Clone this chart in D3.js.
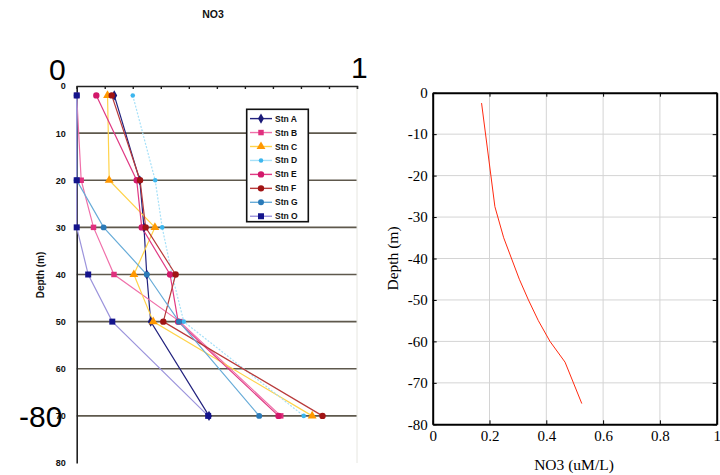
<!DOCTYPE html>
<html><head><meta charset="utf-8">
<script src="https://cdn.jsdelivr.net/npm/d3@7"></script>
<style>body{margin:0;background:#fff}svg{display:block}</style>
</head><body>
<script>
// ---------- data ----------
const stationNames = ["Stn A","Stn B","Stn C","Stn D","Stn E","Stn F","Stn G","Stn O"];
const sampleDepths = [2, 20, 30, 40, 50, 70];
const stnA = [0.134, 0.225, 0.240, 0.250, 0.264, 0.472];
const stnB = [0.000, 0.016, 0.060, 0.133, 0.368, 0.728];
const stnC = [0.110, 0.116, 0.279, 0.204, 0.273, 0.840];
const stnD = [0.200, 0.280, 0.305, 0.340, 0.382, 0.810];
const stnE = [0.070, 0.214, 0.232, 0.333, 0.362, 0.720];
const stnF = [0.125, 0.226, 0.246, 0.353, 0.309, 0.877];
const stnG = [0.000, 0.000, 0.096, 0.250, 0.365, 0.651];
const stnO = [0.000, 0.000, 0.000, 0.041, 0.127, 0.469];
const leftDepthTicks = [0,10,20,30,40,50,60,70,80];

const meanDepth = [-2.5, -27.5, -35, -45, -50, -55, -60, -65, -75];
const meanNO3   = [0.172, 0.219, 0.250, 0.305, 0.337, 0.372, 0.413, 0.466, 0.525];
const rightXTicks = [0, 0.2, 0.4, 0.6, 0.8, 1];
const rightYTicks = [0, -10, -20, -30, -40, -50, -60, -70, -80];

// ---------- styles ----------
const stationValues = [stnA, stnB, stnC, stnD, stnE, stnF, stnG, stnO];
const styles = [
  {line:"#22227e", mark:"#1a1a78", sym:d3.symbolDiamond, size:30, dash:null},
  {line:"#f070aa", mark:"#e0307e", sym:d3.symbolSquare, size:30, dash:null},
  {line:"#ffd34a", mark:"#ff9800", sym:d3.symbolTriangle, size:34, dash:null},
  {line:"#a6e0f8", mark:"#3cb6ee", sym:d3.symbolCircle, size:16, dash:"2,1.5"},
  {line:"#e03a84", mark:"#d2186a", sym:d3.symbolCircle, size:32, dash:null},
  {line:"#b83a3a", mark:"#a01414", sym:d3.symbolCircle, size:32, dash:null},
  {line:"#68acd8", mark:"#2a7ab8", sym:d3.symbolCircle, size:28, dash:null},
  {line:"#9c94dc", mark:"#14148c", sym:d3.symbolSquare, size:36, dash:null}
];

const svg = d3.select("body").append("svg").attr("width",720).attr("height",475);
svg.append("rect").attr("width",720).attr("height",475).attr("fill","#fff");

// ---------- left panel ----------
const lx = d3.scaleLinear().domain([0,1]).range([76.7,357]);
const ly = d3.scaleLinear().domain([0,80]).range([86,463]);
const L = svg.append("g");

L.append("text").attr("x",213).attr("y",18).attr("text-anchor","middle")
  .attr("font-family","Liberation Sans, Arial").attr("font-weight","bold").attr("font-size",10.5)
  .attr("fill","#111").text("NO3");

// gridlines
L.selectAll("line.grid").data(leftDepthTicks.filter(d=>d>0 && d<80)).join("line")
  .attr("x1",lx(0)).attr("x2",lx(1)).attr("y1",d=>ly(d)).attr("y2",d=>ly(d))
  .attr("stroke","#5e584c").attr("stroke-width",1.6);
// faint right border
L.append("line").attr("x1",lx(1)).attr("x2",lx(1)).attr("y1",ly(0)).attr("y2",ly(80))
  .attr("stroke","#e6e6e0").attr("stroke-width",1);

// top axis
const topAxis = d3.axisBottom(lx).tickValues(d3.range(0,1.01,0.1)).tickSize(3).tickFormat("");
L.append("g").attr("transform",`translate(0,${ly(0)})`).call(topAxis)
  .call(g=>g.selectAll("path,line").attr("stroke","#222").attr("stroke-width",1.4));

// left axis
const leftAxis = d3.axisLeft(ly).tickValues(leftDepthTicks).tickSize(0).tickPadding(11)
  .tickFormat(d=>d);
L.append("g").attr("transform",`translate(${lx(0)},0)`).call(leftAxis)
  .call(g=>g.select("path").attr("stroke","#222").attr("stroke-width",1.6))
  .call(g=>g.selectAll("text").attr("font-family","Liberation Sans, Arial")
    .attr("font-weight","bold").attr("font-size",9).attr("fill","#111"));

L.append("text").attr("transform","translate(44,275) rotate(-90)").attr("text-anchor","middle")
  .attr("font-family","Liberation Sans, Arial").attr("font-weight","bold").attr("font-size",10)
  .attr("fill","#111").text("Depth (m)");

// series
const line = d3.line().x(d=>lx(d[0])).y(d=>ly(d[1]));
stationValues.forEach((vals,i)=>{
  const pts = vals.map((v,j)=>[v, sampleDepths[j]]);
  const s = styles[i];
  L.append("path").attr("d",line(pts)).attr("fill","none").attr("stroke",s.line)
    .attr("stroke-width",1.2).attr("stroke-dasharray",s.dash);
});
stationValues.forEach((vals,i)=>{
  const s = styles[i];
  L.selectAll(null).data(vals.map((v,j)=>[v, sampleDepths[j]])).join("path")
    .attr("transform",d=>`translate(${lx(d[0])},${ly(d[1])})`)
    .attr("d",d3.symbol().type(s.sym).size(s.size)).attr("fill",s.mark);
});

// legend
const lg = L.append("g");
lg.append("rect").attr("x",246.7).attr("y",109.3).attr("width",61.6).attr("height",112.4)
  .attr("fill","#fff").attr("stroke","#111").attr("stroke-width",1.6);
stationNames.forEach((n,i)=>{
  const y = 118.6 + i*13.95, s = styles[i];
  lg.append("line").attr("x1",250).attr("x2",272).attr("y1",y).attr("y2",y)
    .attr("stroke",s.line).attr("stroke-width",1.4);
  lg.append("path").attr("transform",`translate(261,${y})`)
    .attr("d",d3.symbol().type(s.sym).size(s.size)).attr("fill",s.mark);
  lg.append("text").attr("x",275).attr("y",y+3).attr("font-family","Liberation Sans, Arial")
    .attr("font-weight","bold").attr("font-size",8.5).attr("fill","#111").text(n);
});

// overlaid large labels
const big = {"font-family":"Liberation Sans, Arial","font-size":30,"fill":"#000"};
function bigText(x,y,t){const e=svg.append("text").attr("x",x).attr("y",y).text(t);
  Object.entries(big).forEach(([k,v])=>e.attr(k,v));}
bigText(49,80,"0");
bigText(351,78,"1");
bigText(19,427,"-80");

// ---------- right panel ----------
const rx = d3.scaleLinear().domain([0,1]).range([432.7,716.7]);
const ry = d3.scaleLinear().domain([-80,0]).range([424.3,92.7]);
const R = svg.append("g");
const serif = "Liberation Serif, Times New Roman, serif";

R.selectAll("line.vg").data(rightXTicks.slice(1,-1)).join("line")
  .attr("x1",d=>rx(d)).attr("x2",d=>rx(d)).attr("y1",ry(0)).attr("y2",ry(-80))
  .attr("stroke","#d4d4d4").attr("stroke-width",1);
R.selectAll("line.hg").data(rightYTicks.slice(1,-1)).join("line")
  .attr("x1",rx(0)).attr("x2",rx(1)).attr("y1",d=>ry(d)).attr("y2",d=>ry(d))
  .attr("stroke","#d4d4d4").attr("stroke-width",1);

R.append("path").datum(meanNO3.map((v,i)=>[v,meanDepth[i]]))
  .attr("d",d3.line().x(d=>rx(d[0])).y(d=>ry(d[1])))
  .attr("fill","none").attr("stroke","#ff2a10").attr("stroke-width",1);

function styleAxis(g){
  g.select("path.domain").attr("stroke","#000").attr("stroke-width",2);
  g.selectAll(".tick line").attr("stroke","#000").attr("stroke-width",1);
  g.selectAll("text").attr("font-family",serif).attr("font-size",15).attr("fill","#000");
}
R.append("g").attr("transform",`translate(0,${ry(-80)})`)
  .call(d3.axisBottom(rx).tickValues(rightXTicks).tickSizeInner(-4).tickSizeOuter(0).tickPadding(6)
    .tickFormat(d=>d)).call(styleAxis);
R.append("g").attr("transform",`translate(${rx(0)},0)`)
  .call(d3.axisLeft(ry).tickValues(rightYTicks).tickSizeInner(-4).tickSizeOuter(0).tickPadding(5)
    .tickFormat(d=>d)).call(styleAxis);
R.append("g").attr("transform",`translate(0,${ry(0)})`)
  .call(d3.axisTop(rx).tickValues(rightXTicks).tickSizeInner(-4).tickSizeOuter(0).tickFormat(""))
  .call(styleAxis);
R.append("g").attr("transform",`translate(${rx(1)},0)`)
  .call(d3.axisRight(ry).tickValues(rightYTicks).tickSizeInner(-4).tickSizeOuter(0).tickFormat(""))
  .call(styleAxis);

R.append("text").attr("x",574).attr("y",470).attr("text-anchor","middle")
  .attr("font-family",serif).attr("font-size",15.5).attr("fill","#000").text("NO3 (uM/L)");
R.append("text").attr("transform","translate(398,258.5) rotate(-90)").attr("text-anchor","middle")
  .attr("font-family",serif).attr("font-size",15.5).attr("fill","#000").text("Depth (m)");
</script>
</body></html>
